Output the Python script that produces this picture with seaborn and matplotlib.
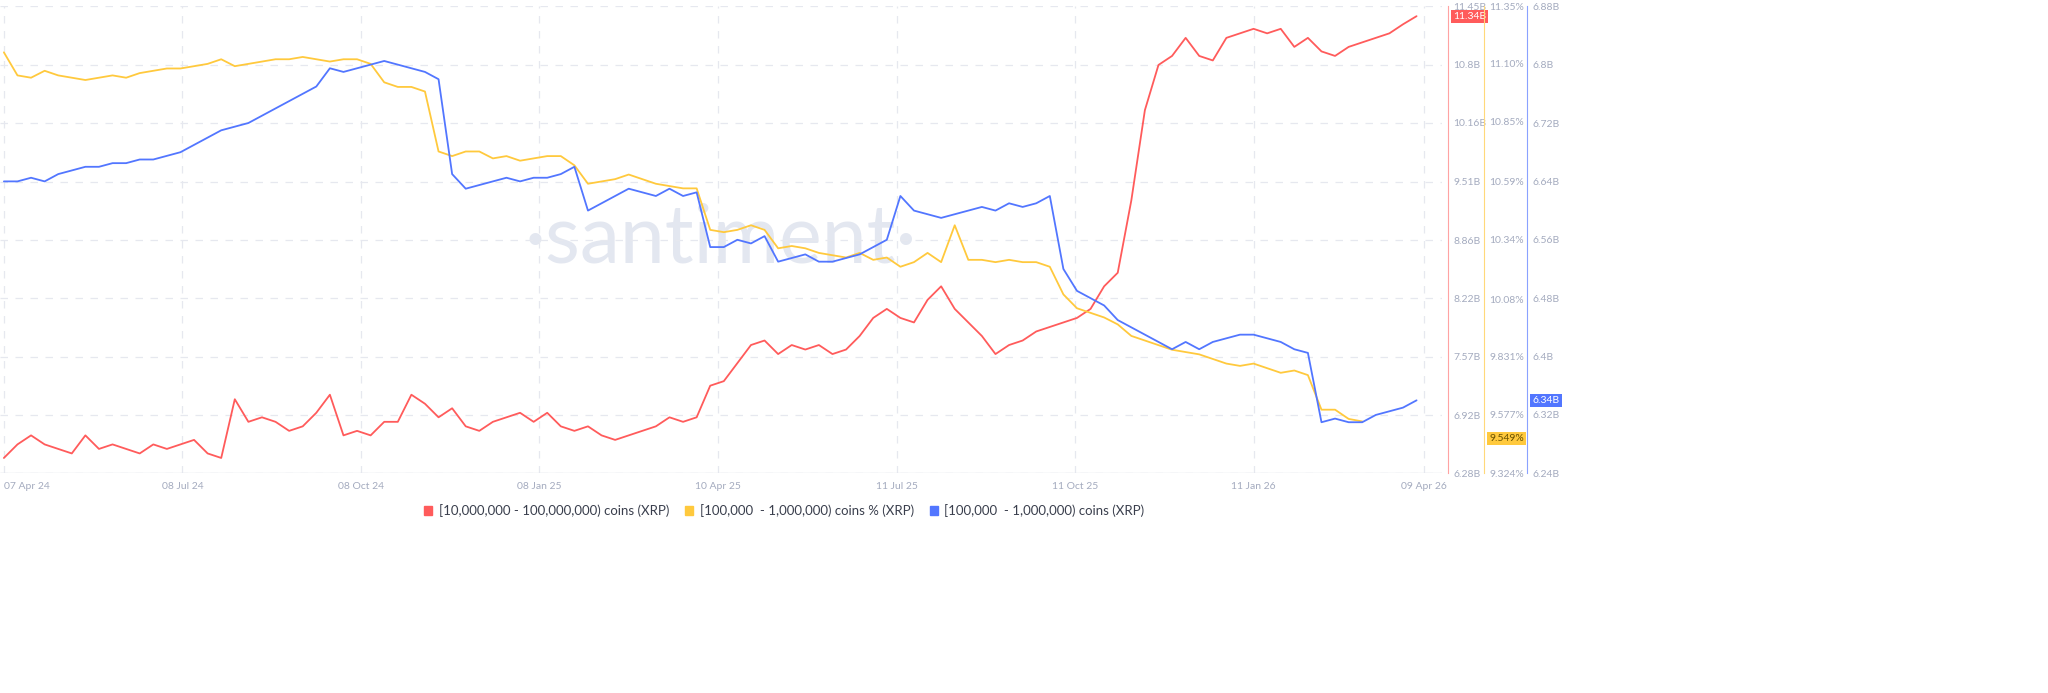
import numpy as np
import pandas as pd
import matplotlib
matplotlib.use("Agg")
import matplotlib.pyplot as plt
import seaborn as sns
from matplotlib.patches import Patch

dates = pd.date_range("2024-04-07", periods=105, freq="7D")

red = [6.45,6.6,6.7,6.6,6.55,6.5,6.7,6.55,6.6,6.55,6.5,6.6,6.55,
       6.6,6.65,6.5,6.45,7.1,6.85,6.9,6.85,6.75,6.8,6.95,7.15,6.7,
       6.75,6.7,6.85,6.85,7.15,7.05,6.9,7.0,6.8,6.75,6.85,6.9,6.95,
       6.85,6.95,6.8,6.75,6.8,6.7,6.65,6.7,6.75,6.8,6.9,6.85,6.9,
       7.25,7.3,7.5,7.7,7.75,7.6,7.7,7.65,7.7,7.6,7.65,7.8,8.0,
       8.1,8.0,7.95,8.2,8.35,8.1,7.95,7.8,7.6,7.7,7.75,7.85,7.9,
       7.95,8.0,8.1,8.35,8.5,9.3,10.3,10.8,10.9,11.1,10.9,10.85,11.1,11.15,
       11.2,11.15,11.2,11.0,11.1,10.95,10.9,11.0,11.05,11.1,11.15,11.25,11.34]
yellow = [11.15,11.05,11.04,11.07,11.05,11.04,11.03,11.04,11.05,11.04,11.06,11.07,11.08,
          11.08,11.09,11.1,11.12,11.09,11.1,11.11,11.12,11.12,11.13,11.12,11.11,11.12,
          11.12,11.1,11.02,11.0,11.0,10.98,10.72,10.7,10.72,10.72,10.69,10.7,10.68,
          10.69,10.7,10.7,10.66,10.58,10.59,10.6,10.62,10.6,10.58,10.57,10.56,10.56,
          10.38,10.37,10.38,10.40,10.38,10.30,10.31,10.30,10.28,10.27,10.26,10.28,10.25,
          10.26,10.22,10.24,10.28,10.24,10.40,10.25,10.25,10.24,10.25,10.24,10.24,10.22,
          10.1,10.04,10.02,10.0,9.97,9.92,9.9,9.88,9.86,9.85,9.84,9.82,9.8,9.79,
          9.8,9.78,9.76,9.77,9.75,9.6,9.6,9.56,9.549,np.nan,np.nan,np.nan,np.nan]
blue = [6.64,6.64,6.645,6.64,6.65,6.655,6.66,6.66,6.665,6.665,6.67,6.67,6.675,
        6.68,6.69,6.7,6.71,6.715,6.72,6.73,6.74,6.75,6.76,6.77,6.795,6.79,
        6.795,6.80,6.805,6.8,6.795,6.79,6.78,6.65,6.63,6.635,6.64,6.645,6.64,
        6.645,6.645,6.65,6.66,6.6,6.61,6.62,6.63,6.625,6.62,6.63,6.62,6.625,
        6.55,6.55,6.56,6.555,6.565,6.53,6.535,6.54,6.53,6.53,6.535,6.54,6.55,
        6.56,6.62,6.6,6.595,6.59,6.595,6.6,6.605,6.6,6.61,6.605,6.61,6.62,
        6.52,6.49,6.48,6.47,6.45,6.44,6.43,6.42,6.41,6.42,6.41,6.42,6.425,6.43,
        6.43,6.425,6.42,6.41,6.405,6.31,6.315,6.31,6.31,6.32,6.325,6.33,6.34]

red_ticks = [6.28, 6.92, 7.57, 8.22, 8.86, 9.51, 10.16, 10.8, 11.45]
yellow_ticks = [9.324, 9.577, 9.831, 10.08, 10.34, 10.59, 10.85, 11.10, 11.35]
yellow_labels = ["9.324%", "9.577%", "9.831%", "10.08%", "10.34%", "10.59%", "10.85%", "11.10%", "11.35%"]
blue_ticks = [6.24, 6.32, 6.4, 6.48, 6.56, 6.64, 6.72, 6.8, 6.88]
xtick_dates = ["2024-04-07", "2024-07-08", "2024-10-08", "2025-01-08", "2025-04-10",
               "2025-07-11", "2025-10-11", "2026-01-11", "2026-04-09"]
xtick_labels = ["07 Apr 24", "08 Jul 24", "08 Oct 24", "08 Jan 25", "10 Apr 25",
                "11 Jul 25", "11 Oct 25", "11 Jan 26", "09 Apr 26"]
labels = ["[10,000,000 - 100,000,000) coins (XRP)", "[100,000  - 1,000,000) coins % (XRP)",
          "[100,000  - 1,000,000) coins (XRP)"]

RED, YEL, BLU = "#ff5b5b", "#ffc93d", "#5276ff"
TXT = "#a4abbf"

sns.set_style("white")
plt.rcParams['font.family'] = ['Lato', 'DejaVu Sans']
fig = plt.figure(figsize=(20.48, 6.93), dpi=100)
ax = fig.add_axes([0.0, 0.317, 0.704, 0.674])
ax2 = ax.twinx()
ax3 = ax.twinx()

df = pd.DataFrame({"date": dates, "red": red, "yellow": yellow, "blue": blue})
sns.lineplot(data=df, x="date", y="red", ax=ax, color=RED, lw=1.3)
sns.lineplot(data=df, x="date", y="yellow", ax=ax2, color=YEL, lw=1.3)
sns.lineplot(data=df, x="date", y="blue", ax=ax3, color=BLU, lw=1.3)

xmin, xmax = pd.Timestamp("2024-04-05"), pd.Timestamp("2026-04-18")
for a in (ax, ax2, ax3):
    a.set_xlim(xmin, xmax)
    a.set_xlabel(""); a.set_ylabel("")
    for s in ("top", "left", "bottom", "right"):
        a.spines[s].set_visible(False)
ax.set_ylim(6.28, 11.45)
ax2.set_ylim(9.324, 11.35)
ax3.set_ylim(6.24, 6.88)

ax.yaxis.tick_right()
ax.set_yticks(red_ticks)
ax.set_yticklabels([f"{t:g}B" for t in red_ticks])
ax2.set_yticks(yellow_ticks)
ax2.set_yticklabels(yellow_labels)
ax3.set_yticks(blue_ticks)
ax3.set_yticklabels([f"{t:g}B" for t in blue_ticks])

ax.spines["right"].set_visible(True); ax.spines["right"].set_position(("axes", 1.004)); ax.spines["right"].set_color("#ffa3a3")
ax2.spines["right"].set_visible(True); ax2.spines["right"].set_position(("axes", 1.029)); ax2.spines["right"].set_color("#ffd97a")
ax3.spines["right"].set_visible(True); ax3.spines["right"].set_position(("axes", 1.059)); ax3.spines["right"].set_color("#8aa2ff")
for a in (ax, ax2, ax3):
    a.tick_params(axis="y", length=0, pad=4, labelsize=7.5, labelcolor=TXT)

ax.set_xticks(pd.to_datetime(xtick_dates))
ax.set_xticklabels(xtick_labels)
ax.tick_params(axis="x", length=0, labelsize=7.5, labelcolor=TXT, pad=6)
ax.get_xticklabels()[0].set_ha("left")
ax.grid(True, color="#e6e8ef", ls=(0, (6, 6)), lw=0.9)
ax.set_axisbelow(True)
ax.axhline(6.28, color="#dfe2ea", lw=1)

ax.text(0.5, 0.5, "·santiment·", transform=ax.transAxes, ha="center", va="center",
        fontsize=58, color="#e3e7f0", zorder=0)

bbox = lambda c: dict(boxstyle="square,pad=0.2", fc=c, ec="none")
ax.annotate("11.34B", xy=(1.004, red[-1]), xycoords=("axes fraction", "data"), xytext=(4, 0),
            textcoords="offset points", va="center", fontsize=7.5, color="white", bbox=bbox(RED))
ax2.annotate("9.549%", xy=(1.029, 9.549), xycoords=("axes fraction", "data"), xytext=(4, -12),
             textcoords="offset points", va="center", fontsize=7.5, color="#6b5200", bbox=bbox(YEL))
ax3.annotate("6.34B", xy=(1.059, blue[-1]), xycoords=("axes fraction", "data"), xytext=(4, 0),
             textcoords="offset points", va="center", fontsize=7.5, color="white", bbox=bbox(BLU))

handles = [Patch(color=c, label=l) for c, l in zip((RED, YEL, BLU), labels)]
fig.legend(handles=handles, loc="center", bbox_to_anchor=(0.383, 0.263), ncol=3, frameon=False,
           fontsize=9.5, handlelength=0.6, handleheight=0.6, columnspacing=1.2, handletextpad=0.5,
           labelcolor="#3a3f4d")

fig.savefig("out.png", dpi=100)
